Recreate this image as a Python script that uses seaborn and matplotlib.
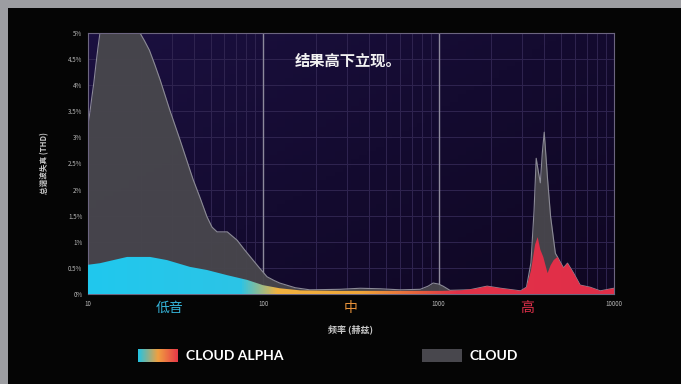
import numpy as np
import pandas as pd
import seaborn as sns
import matplotlib.pyplot as plt
from matplotlib.colors import LinearSegmentedColormap
from matplotlib.patches import Rectangle
from matplotlib.ticker import FixedLocator, NullFormatter

# --- data: frequency (Hz) vs THD (%) ---
cloud_freq = [10, 10.27, 10.5, 10.8, 11.1, 11.4, 11.7, 12.5, 15.2, 18.5, 19.8, 21.0,
              22.4, 24.0, 25.8, 29.3, 33.5, 39.7, 43.5, 47.7, 51.0, 54.5, 62.3, 70.9,
              78.0, 87.3, 95.0, 105, 115, 124, 152, 184, 274,
              357, 464, 604, 785, 870, 930, 1000, 1060, 1160, 1500, 1890, 2250, 2930, 3170,
              3360, 3500, 3600, 3700, 3800, 3900, 4000, 4180, 4350, 4630, 4760,
              5150, 5430, 5880, 6410, 7300, 8350, 10000]
cloud_thd = [3.24, 3.5, 3.75, 4.05, 4.4, 4.72, 5.0, 5.3, 5.6, 5.3, 5.0, 4.85,
             4.67, 4.4, 4.1, 3.52, 2.95, 2.2, 1.85, 1.48, 1.28, 1.19, 1.19, 1.03,
             0.85, 0.65, 0.5, 0.33, 0.26, 0.21, 0.12, 0.08, 0.09,
             0.11, 0.10, 0.08, 0.09, 0.15, 0.21, 0.19, 0.15, 0.07, 0.08, 0.15, 0.11, 0.06, 0.13,
             0.6, 1.6, 2.6, 2.35, 2.13, 2.7, 3.1, 2.2, 1.48, 0.78, 0.71,
             0.5, 0.59, 0.4, 0.17, 0.13, 0.06, 0.11]

alpha_freq = [10, 11.7, 16.7, 22.6, 28.2, 38.1, 47.7, 62.3, 80.9, 99.5, 124, 162,
              274, 604, 1030, 1330, 1620, 1890, 2250, 2930, 3170, 3360, 3550, 3670,
              3800, 3950, 4180, 4350, 4530, 4760, 4950, 5150, 5430, 5880, 6410,
              7300, 8350, 10000]
alpha_thd = [0.56, 0.59, 0.71, 0.71, 0.65, 0.52, 0.46, 0.36, 0.27, 0.17, 0.11, 0.07,
             0.06, 0.06, 0.06, 0.07, 0.10, 0.15, 0.11, 0.06, 0.13, 0.45, 0.95, 1.09,
             0.85, 0.71, 0.40, 0.55, 0.65, 0.71, 0.60, 0.50, 0.59, 0.40, 0.17,
             0.13, 0.06, 0.11]

y_ticks = [0, 0.5, 1, 1.5, 2, 2.5, 3, 3.5, 4, 4.5, 5]
y_ticklabels = ['0%', '0.5%', '1%', '1.5%', '2%', '2.5%', '3%', '3.5%', '4%', '4.5%', '5%']
x_ticks = [10, 100, 1000, 10000]
x_ticklabels = ['10', '100', '1000', '10000']

cloud = pd.DataFrame({'freq': cloud_freq, 'thd': cloud_thd})
alpha = pd.DataFrame({'freq': alpha_freq, 'thd': alpha_thd})

sns.set_theme(style='dark')
plt.rcParams['font.family'] = ['Noto Sans CJK SC', 'DejaVu Sans']

W, H = 681, 384
fig = plt.figure(figsize=(W / 100, H / 100), dpi=100, facecolor='#9c9da1')
# black inner panel (grey frame on top and left only)
fig.patches.append(Rectangle((8 / W, 0), 1, (H - 8) / H, transform=fig.transFigure,
                             facecolor='#050505', edgecolor='none', zorder=-5))

ax = fig.add_axes([88 / W, (H - 294) / H, 526 / W, 261 / H])
ax.set_facecolor('#130a2b')
ax.set_xscale('log')
ax.set_xlim(10, 10000)
ax.set_ylim(0, 5)
ax.autoscale(False)

# dark navy -> purple background
bg = LinearSegmentedColormap.from_list('bg', ['#1b1040', '#140b30', '#0f0722'])
gx, gy = np.meshgrid(np.linspace(0, 1, 64), np.linspace(0, 1, 64))
ax.imshow(0.55 * gx + 0.45 * gy, cmap=bg, aspect='auto', extent=[0, 1, 0, 1],
          transform=ax.transAxes, zorder=0, origin='upper')

# grid
for y in y_ticks[1:-1]:
    ax.axhline(y, color='#2f2450', lw=0.7, zorder=1)
minor = [m * d for d in (10, 100, 1000) for m in range(2, 10)]
for x in minor:
    ax.axvline(x, color='#2f2450', lw=0.7, zorder=1)
for x in (100, 1000):
    ax.axvline(x, color='#8d8a9c', lw=1.0, zorder=1)

# grey "CLOUD" area
ax.fill_between(cloud['freq'], 0, cloud['thd'], color='#47464c', alpha=0.97, lw=0, zorder=2)
sns.lineplot(data=cloud, x='freq', y='thd', ax=ax, color='#8b8a96', lw=0.8, zorder=2.5)

# gradient "CLOUD ALPHA" area
cmap = LinearSegmentedColormap.from_list('alpha', [
    (0.0, '#20c8ee'), (0.29, '#2cc4e6'), (0.36, '#f2b341'), (0.52, '#f0a63a'),
    (0.63, '#e8603e'), (0.70, '#e33249'), (1.0, '#e02e48')])
poly = ax.fill_between(alpha['freq'], 0, alpha['thd'], color='none', lw=0)
im = ax.imshow(np.linspace(0, 1, 512).reshape(1, -1), cmap=cmap, aspect='auto',
               extent=[0, 1, 0, 1], transform=ax.transAxes, zorder=3)
im.set_clip_path(poly.get_paths()[0], transform=ax.transData)
ax.set_xlim(10, 10000)
ax.set_ylim(0, 5)

# axes cosmetics
ax.xaxis.set_major_locator(FixedLocator(x_ticks))
ax.xaxis.set_minor_formatter(NullFormatter())
ax.set_xticks(x_ticks, x_ticklabels)
ax.set_yticks(y_ticks, y_ticklabels)
ax.tick_params(axis='both', length=0, labelsize=4.5, colors='#b8b8b8', pad=4)
ax.tick_params(axis='x', which='minor', length=0)
for s in ax.spines.values():
    s.set_visible(True)
    s.set_color('#6c6580')
    s.set_linewidth(0.8)
ax.set_xlabel('')
ax.set_ylabel('')

ax.text(0.495, 0.895, '结果高下立现。', transform=ax.transAxes, ha='center', va='center',
        color='#f2f2f2', fontsize=11, fontweight='bold', zorder=5)

# labels in figure pixels
def fx(px):
    return px / W

def fy(py):
    return 1 - py / H

fig.text(fx(45), fy(163), '总谐波失真 (THD)', rotation=90, ha='center', va='center',
         color='#c8c8c8', fontsize=5.5, fontweight='bold')
fig.text(fx(351), fy(329), '频率 (赫兹)', ha='center', va='center',
         color='#c8c8c8', fontsize=6.5, fontweight='bold')
fig.text(fx(170), fy(308), '低音', ha='center', va='center', color='#35b3d8', fontsize=10)
fig.text(fx(351), fy(308), '中', ha='center', va='center', color='#e8923a', fontsize=10)
fig.text(fx(527), fy(308), '高', ha='center', va='center', color='#e0304a', fontsize=10)

# legend
lax = fig.add_axes([fx(138), fy(362), 40 / W, 13 / H])
lcmap = LinearSegmentedColormap.from_list('leg', ['#22c4e4', '#f0a040', '#e83848'])
lax.imshow(np.linspace(0, 1, 256).reshape(1, -1), cmap=lcmap, aspect='auto')
lax.set_axis_off()
fig.patches.append(Rectangle((fx(422), fy(362)), 40 / W, 13 / H, transform=fig.transFigure,
                             facecolor='#48474d', edgecolor='none', zorder=2))
fig.text(fx(186), fy(355.5), 'CLOUD ALPHA', ha='left', va='center', color='white',
         fontsize=10, fontweight='bold', family=['Lato', 'DejaVu Sans'])
fig.text(fx(470), fy(355.5), 'CLOUD', ha='left', va='center', color='white',
         fontsize=10, fontweight='bold', family=['Lato', 'DejaVu Sans'])

fig.savefig('out.png', dpi=100, facecolor=fig.get_facecolor())
